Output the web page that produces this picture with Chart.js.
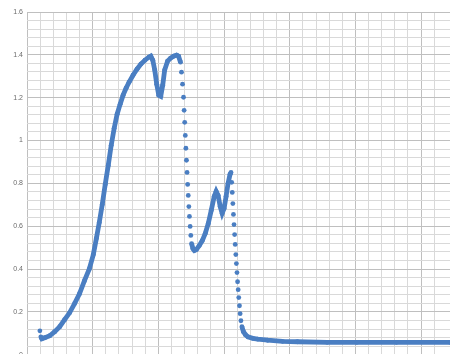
<!DOCTYPE html>
<html>
<head>
<meta charset="utf-8">
<script src="https://cdn.jsdelivr.net/npm/chart.js@4"></script>
<style>
  html, body { margin: 0; background: #fff; overflow: hidden; }
  canvas { display: block; }
</style>
</head>
<body>
<canvas id="spectrum" width="454" height="363"></canvas>
<script>
// curve (x in arbitrary units, 100 per major grid line)
const xValues = [
  19.6, 21.1, 22.6, 27.1, 34.7, 42.2, 49.8, 57.3, 64.8, 72.4,
  79.9, 87.5, 95.0, 101.0, 105.6, 110.0, 114.6, 119.1, 123.7, 128.2,
  132.7, 137.2, 141.8, 146.3, 150.8, 155.3, 161.4, 167.4, 173.4, 179.5,
  185.5, 188.5, 191.5, 194.5, 197.5, 200.6, 203.6, 206.6, 209.6, 214.1,
  218.7, 223.2, 227.7, 230.7, 233.7, 235.2, 236.8, 238.3, 239.2, 240.1,
  241.0, 241.9, 242.8, 243.7, 244.6, 245.5, 246.4, 247.3, 248.4, 249.4,
  250.6, 252.6, 254.9, 257.9, 262.4, 266.9, 271.4, 276.0, 280.5, 285.0,
  288.0, 291.0, 294.1, 297.1, 300.1, 303.1, 306.1, 309.1, 310.6, 311.6,
  312.5, 313.4, 314.3, 315.2, 316.1, 317.0, 317.9, 318.8, 319.7, 320.6,
  321.5, 322.4, 323.5, 324.5, 325.7, 327.2, 329.5, 332.5, 336.3, 343.8,
  351.4, 366.4, 389.1, 411.7, 456.9, 502.2, 562.5, 644.0
];
const yValues = [
  0.112, 0.084, 0.075, 0.080, 0.089, 0.108, 0.131, 0.164, 0.196, 0.239,
  0.285, 0.346, 0.402, 0.468, 0.543, 0.617, 0.702, 0.795, 0.884, 0.978,
  1.057, 1.123, 1.170, 1.212, 1.244, 1.272, 1.305, 1.333, 1.357, 1.375,
  1.389, 1.394, 1.375, 1.329, 1.263, 1.212, 1.207, 1.258, 1.329, 1.371,
  1.385, 1.394, 1.399, 1.394, 1.366, 1.319, 1.263, 1.202, 1.141, 1.085,
  1.024, 0.964, 0.908, 0.851, 0.795, 0.744, 0.692, 0.646, 0.599, 0.557,
  0.519, 0.496, 0.487, 0.491, 0.510, 0.533, 0.566, 0.613, 0.674, 0.739,
  0.763, 0.744, 0.692, 0.660, 0.683, 0.739, 0.800, 0.842, 0.851, 0.805,
  0.758, 0.706, 0.655, 0.608, 0.561, 0.515, 0.468, 0.426, 0.384, 0.341,
  0.304, 0.267, 0.229, 0.192, 0.159, 0.131, 0.108, 0.094, 0.084, 0.077,
  0.073, 0.068, 0.063, 0.061, 0.058, 0.058, 0.058, 0.058
];
const yLabelValues = [0, 0.2, 0.4, 0.6, 0.8, 1, 1.2, 1.4, 1.6];

const blue = '#4a7ec2';
const points = xValues.map((x, i) => ({x: x, y: yValues[i]}));

function isMajor(v, unit) {
  return Math.abs(v / unit - Math.round(v / unit)) < 1e-6;
}

new Chart(document.getElementById('spectrum'), {
  type: 'scatter',
  data: {
    datasets: [{
      data: points,
      showLine: true,
      borderColor: blue,
      borderWidth: 4.8,
      pointRadius: 2.4,
      pointBorderWidth: 0,
      pointBackgroundColor: blue,
      segment: {
        // steep jumps show up as separate dots, not a line
        borderColor: ctx => {
          const dx = Math.abs(ctx.p1.x - ctx.p0.x);
          const dy = Math.abs(ctx.p1.y - ctx.p0.y);
          return (dy > 5 && dx < 1.5) ? 'transparent' : blue;
        }
      }
    }]
  },
  options: {
    responsive: false,
    animation: false,
    layout: { padding: { top: 12, right: 0, bottom: 0, left: 0 } },
    plugins: { legend: { display: false }, tooltip: { enabled: false } },
    scales: {
      x: {
        type: 'linear',
        min: 0,
        max: 644,
        ticks: { display: false, stepSize: 20, autoSkip: false },
        grid: {
          drawTicks: false,
          lineWidth: 1,
          color: ctx => {
            const v = ctx.tick.value;
            if (!isMajor(v, 20)) return 'transparent';
            return isMajor(v, 100) ? '#bfbfbf' : '#d9d9d9';
          }
        },
        border: { display: false },
        afterFit: s => { s.height = 0; }
      },
      y: {
        min: 0,
        max: 1.6,
        ticks: {
          stepSize: 0.04,
          autoSkip: false,
          padding: 4,
          color: '#6b6b6b',
          font: { family: 'Liberation Sans', size: 7 },
          callback: v => yLabelValues.some(l => Math.abs(l - v) < 1e-6) ? String(Math.round(v * 10) / 10) : ''
        },
        grid: {
          drawTicks: false,
          lineWidth: 1,
          color: ctx => isMajor(ctx.tick.value, 0.2) ? '#bfbfbf' : '#d9d9d9'
        },
        border: { display: false },
        afterFit: s => { s.width = 27; }
      }
    }
  }
});
</script>
</body>
</html>
